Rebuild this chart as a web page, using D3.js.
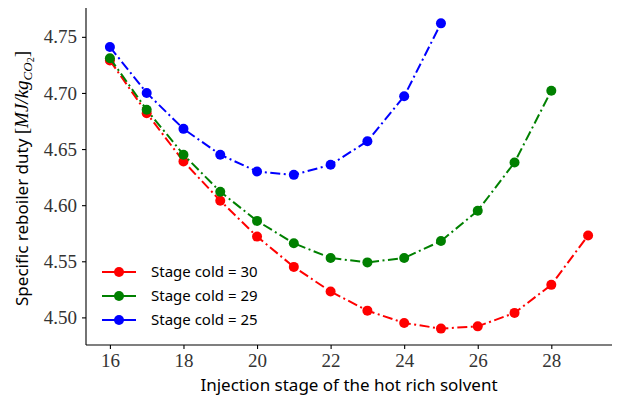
<!DOCTYPE html>
<html>
<head>
<meta charset="utf-8">
<script src="https://cdn.jsdelivr.net/npm/d3@7"></script>
<style>
  body { margin: 0; background: #fff; }
  .tick text { font-family: "Liberation Serif", serif; fill: #333; }
  .lbl { font-family: "Noto Sans", sans-serif; }
</style>
</head>
<body>
<svg id="chart" width="617" height="400"></svg>
<script>
// injection stages (x) and specific reboiler duty for each cold stage
const stages = [16, 17, 18, 19, 20, 21, 22, 23, 24, 25, 26, 27, 28, 29];
const cold30 = [4.729, 4.682, 4.639, 4.604, 4.572, 4.545, 4.523, 4.506, 4.495, 4.490, 4.492, 4.504, 4.529, 4.573];
const cold29 = [4.731, 4.685, 4.645, 4.612, 4.586, 4.566, 4.553, 4.549, 4.553, 4.568, 4.595, 4.638, 4.702];
const cold25 = [4.741, 4.700, 4.668, 4.645, 4.630, 4.627, 4.636, 4.657, 4.697, 4.762];
const xTicks = [16, 18, 20, 22, 24, 26, 28];
const yTicks = [4.50, 4.55, 4.60, 4.65, 4.70, 4.75];

const series = [
  {name: "Stage cold = 30", color: "#ff0000", values: cold30},
  {name: "Stage cold = 29", color: "#008000", values: cold29},
  {name: "Stage cold = 25", color: "#0000ff", values: cold25}
];

const svg = d3.select("#chart");
const margin = {left: 86, right: 5, top: 8, bottom: 55};
const W = 617, H = 400;

const x = d3.scaleLinear().domain([15.35, 29.65]).range([margin.left, W - margin.right]);
const y = d3.scaleLinear().domain([4.4754, 4.7757]).range([H - margin.bottom, margin.top]);

// axes
const xAxis = svg.append("g")
  .attr("transform", `translate(0,${H - margin.bottom})`)
  .call(d3.axisBottom(x).tickValues(xTicks).tickSize(4).tickPadding(5).tickFormat(d3.format("d")));
const yAxis = svg.append("g")
  .attr("transform", `translate(${margin.left},0)`)
  .call(d3.axisLeft(y).tickValues(yTicks).tickSize(4).tickPadding(5).tickFormat(d3.format(".2f")));

[xAxis, yAxis].forEach(a => {
  a.selectAll(".domain").attr("stroke", "#000").attr("stroke-width", 1.1);
  a.selectAll(".tick line").attr("stroke", "#000").attr("stroke-width", 1.1);
  a.selectAll(".tick text").style("font-size", "19px");
});
xAxis.select(".domain").attr("d", `M${margin.left},0H${W - margin.right}`);
yAxis.select(".domain").attr("d", `M0,${margin.top}V${H - margin.bottom}`);

// lines + markers
const line = d3.line().x((d, i) => x(stages[i])).y(d => y(d));

series.forEach(s => {
  svg.append("path")
    .datum(s.values)
    .attr("fill", "none")
    .attr("stroke", s.color)
    .attr("stroke-width", 2)
    .attr("stroke-dasharray", "10,3.5,2,3.5")
    .attr("d", line);
  svg.append("g").selectAll("circle")
    .data(s.values)
    .join("circle")
    .attr("cx", (d, i) => x(stages[i]))
    .attr("cy", d => y(d))
    .attr("r", 5)
    .attr("fill", s.color);
});

// legend
const legend = svg.append("g").attr("transform", "translate(102,272)");
series.forEach((s, i) => {
  const g = legend.append("g").attr("transform", `translate(0,${i * 24})`);
  g.append("line").attr("x1", 0).attr("x2", 34).attr("stroke", s.color).attr("stroke-width", 2);
  g.append("circle").attr("cx", 17).attr("r", 5).attr("fill", s.color);
  g.append("text").attr("class", "lbl").attr("x", 49).attr("dy", "0.35em")
    .style("font-size", "15px").text(s.name);
});

// axis labels
svg.append("text").attr("class", "lbl")
  .attr("x", (margin.left + W - margin.right) / 2).attr("y", 391)
  .attr("text-anchor", "middle").style("font-size", "17px")
  .text("Injection stage of the hot rich solvent");

const serif = "'Liberation Serif', serif";
const yl = svg.append("text").attr("class", "lbl")
  .attr("transform", `translate(28,${(margin.top + H - margin.bottom) / 2 + 2}) rotate(-90)`)
  .attr("text-anchor", "middle").style("font-size", "17px");
yl.append("tspan").text("Specific reboiler duty ");
yl.append("tspan").style("font-family", serif).style("font-size", "19px").text("[");
yl.append("tspan").style("font-family", serif).style("font-style", "italic").style("font-size", "19px").text("MJ/kg");
yl.append("tspan").style("font-family", serif).style("font-style", "italic")
  .style("font-size", "13px").attr("dy", "4").text("CO");
yl.append("tspan").style("font-family", serif).style("font-size", "10px").attr("dy", "2").text("2");
yl.append("tspan").style("font-family", serif).style("font-size", "19px").attr("dy", "-6").text("]");
</script>
</body>
</html>
